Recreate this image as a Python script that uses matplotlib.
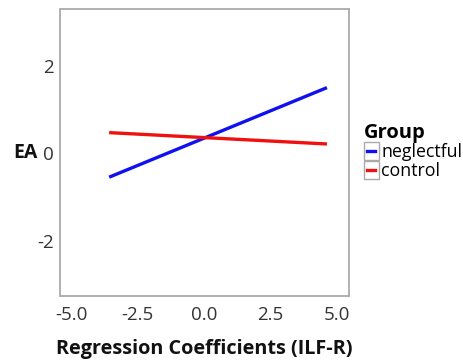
import matplotlib
matplotlib.use("Agg")
import matplotlib.pyplot as plt
from matplotlib.legend_handler import HandlerBase
from matplotlib.patches import Rectangle
from matplotlib.lines import Line2D

plt.rcParams['font.family'] = ['Open Sans', 'DejaVu Sans']

groups = ["neglectful", "control"]
colors = ["#1010f0", "#f01010"]
x_range = [-3.57, 4.62]
neglectful_y = [-0.55, 1.50]
control_y = [0.47, 0.21]
series = [neglectful_y, control_y]
xticks = [-5.0, -2.5, 0.0, 2.5, 5.0]
yticks = [-2, 0, 2]

fig = plt.figure(figsize=(4.63, 3.62), dpi=100)
ax = fig.add_axes([60.5/463, 1 - 296/362, (349-60.5)/463, (296-9)/362])

for g, c, ys in zip(groups, colors, series):
    ax.plot(x_range, ys, color=c, lw=2.4, label=g, solid_capstyle='butt')

ax.set_xlim(-5.4, 5.45)
ax.set_ylim(-3.27, 3.3)
ax.set_xticks(xticks)
ax.set_xticklabels([f"{t:.1f}" for t in xticks])
ax.set_yticks(yticks)
ax.set_yticklabels([str(t) for t in yticks])
ax.tick_params(length=0, labelsize=13.5, colors='#333333', pad=5)
ax.tick_params(axis='x', pad=7)
for s in ax.spines.values():
    s.set_color('#aaaaaa')
    s.set_linewidth(1.3)

ax.set_xlabel("Regression Coefficients (ILF-R)", fontsize=14.3, fontweight='bold', labelpad=11, color='#111111')
ax.set_ylabel("EA", fontsize=14, fontweight='bold', rotation=0, labelpad=8, va='center', color='#111111')


class BoxLineHandler(HandlerBase):
    def create_artists(self, legend, orig_handle, xdescent, ydescent, width, height, fontsize, trans):
        rect = Rectangle((-xdescent, -ydescent - 2), width, height + 4, facecolor='white',
                         edgecolor='#aaaaaa', lw=1.0, transform=trans)
        ln = Line2D([-xdescent + 2.5, -xdescent + width - 2.5], [height / 2 - ydescent] * 2,
                    color=orig_handle.get_color(), lw=2.4, transform=trans)
        return [rect, ln]


handles, labels = ax.get_legend_handles_labels()
leg = fig.legend(handles, labels, title="Group", loc='upper left', bbox_to_anchor=(360/463, 1 - 119/362),
                 frameon=False, fontsize=12.8, handlelength=0.85, handletextpad=0.15, labelspacing=0.05,
                 borderaxespad=0, borderpad=0.2,
                 handler_map={Line2D: BoxLineHandler()})
leg.get_title().set_fontweight('bold')
leg.get_title().set_fontsize(14.5)
leg._legend_box.align = "left"

fig.savefig("out.png", dpi=100)
